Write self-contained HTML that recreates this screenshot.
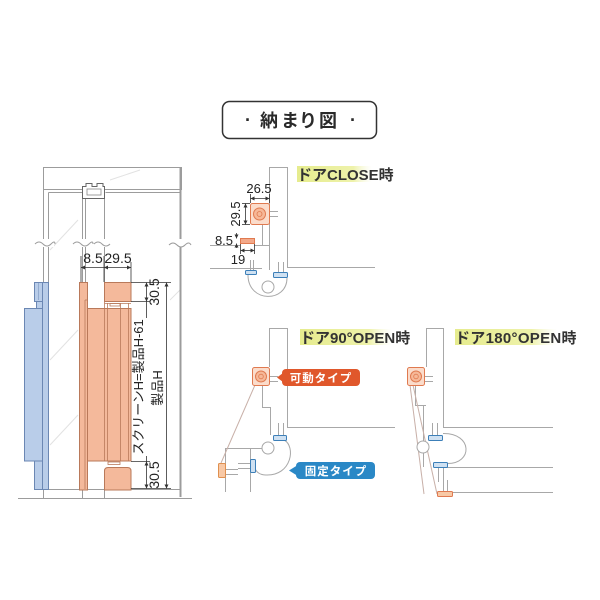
<!DOCTYPE html>
<html><head><meta charset="utf-8"><style>
html,body{margin:0;padding:0;background:#fff;}
svg{display:block;}
text{font-family:"Liberation Sans","Noto Sans CJK JP",sans-serif;}
</style></head><body>
<svg width="600" height="600" viewBox="0 0 600 600" xmlns="http://www.w3.org/2000/svg">
<defs>
<marker id="a" viewBox="0 0 6 6" refX="6" refY="3" markerWidth="5" markerHeight="5" orient="auto-start-reverse"><path d="M0,0 L6,3 L0,6z" fill="#333"/></marker>
<linearGradient id="hl" x1="0" x2="1" y1="0" y2="0"><stop offset="0" stop-color="#e6ec8e"/><stop offset="0.75" stop-color="#eef2aa"/><stop offset="1" stop-color="#f6f8d8" stop-opacity="0"/></linearGradient>
</defs>
<rect width="600" height="600" fill="#fff"/>

<!-- Title -->
<rect x="222.5" y="101.5" width="154" height="37" rx="7" fill="#fff" stroke="#333" stroke-width="1.5"/>
<g font-size="18" font-weight="bold" fill="#2a2a2a" text-anchor="middle">
<text x="248" y="126">·</text>
<text x="269" y="127">納</text>
<text x="290" y="127">ま</text>
<text x="308" y="127">り</text>
<text x="328" y="127">図</text>
<text x="353" y="126">·</text>
</g>

<!-- ========== LEFT DRAWING ========== -->
<g stroke="#e2e2e2" stroke-width="1" fill="none">
<line x1="50" y1="250" x2="78" y2="220"/>
<line x1="50" y1="360" x2="78" y2="330"/>
<line x1="50" y1="445" x2="78" y2="415"/>
<line x1="110" y1="180" x2="140" y2="170"/>
<line x1="170" y1="300" x2="180" y2="290"/>
</g>
<g stroke="#9c9c9c" stroke-width="1" fill="none">
<rect x="43.5" y="167.5" width="138" height="22"/>
<line x1="43.5" y1="189" x2="43.5" y2="282"/>
<line x1="48.5" y1="192.5" x2="48.5" y2="282"/>
<line x1="48.5" y1="192.5" x2="82" y2="192.5"/>
<line x1="105.5" y1="192.5" x2="180" y2="192.5"/>
<line x1="82.5" y1="186" x2="82.5" y2="282"/>
<line x1="85.5" y1="198" x2="85.5" y2="282"/>
<line x1="104.5" y1="186" x2="104.5" y2="282"/>
<line x1="43.5" y1="489" x2="43.5" y2="498"/>
<line x1="82.5" y1="490" x2="82.5" y2="498"/>
<line x1="104.5" y1="490" x2="104.5" y2="498"/>
<line x1="48" y1="489.5" x2="180" y2="489.5"/>
<line x1="18" y1="498.5" x2="192" y2="498.5"/>
</g>
<line x1="180.5" y1="167" x2="180.5" y2="497" stroke="#9c9c9c" stroke-width="2"/>
<!-- track profile -->
<path d="M82.5 186.5 H86 V183.5 H92 V186.5 H97 V183.5 H103 V186.5 H104.5 V198.5 H82.5 Z" fill="#fff" stroke="#666" stroke-width="1"/>
<rect x="87" y="189" width="14" height="6" fill="#fff" stroke="#888" stroke-width="0.8"/>
<!-- break marks -->
<g fill="#fff" stroke="none">
<rect x="36" y="239" width="18" height="8"/>
<rect x="74" y="239" width="18" height="8"/>
<rect x="95" y="239" width="16" height="8"/>
<rect x="170" y="239" width="20" height="8"/>
</g>
<g stroke="#9c9c9c" stroke-width="1" fill="none">
<path d="M35 244 q4 -4 8 0 t8 0 t4 0"/>
<path d="M73 244 q4 -4 8 0 t8 0 t4 0"/>
<path d="M94 244 q4 -4 8 0 t8 0"/>
<path d="M169 245 q4 -4 8 0 t8 0 t6 0"/>
</g>

<!-- blue panel -->
<g fill="#b9cde9" stroke="#6b87b3" stroke-width="1">
<rect x="42.5" y="282.5" width="6" height="207"/>
<rect x="34.5" y="282.5" width="8" height="19"/>
<rect x="36.5" y="301.5" width="6" height="7"/>
<rect x="24.5" y="308.5" width="18" height="152.5"/>
<rect x="34.5" y="461" width="8" height="28.5"/>
</g>
<line x1="38.5" y1="283" x2="38.5" y2="300" stroke="#8aa3c8" stroke-width="0.8"/>

<!-- orange screen -->
<g fill="#f4b99b" stroke="#b9795a" stroke-width="1">
<rect x="79.5" y="282.5" width="8" height="207.5"/>
<rect x="104.5" y="282.5" width="26.5" height="19"/>
<rect x="87.5" y="308.5" width="43.5" height="152.5"/>
<path d="M104.5 490 V471 q0 -3.5 3.5 -3.5 H127.5 q3.5 0 3.5 3.5 V490 Z"/>
</g>
<g stroke="#b9795a" stroke-width="0.8" fill="none">
<line x1="85" y1="300" x2="85" y2="489"/>
<line x1="85" y1="300" x2="87.5" y2="300"/>
<line x1="104.5" y1="301.5" x2="104.5" y2="461"/>
<line x1="107.5" y1="303" x2="107.5" y2="461"/>
<line x1="120.5" y1="303" x2="120.5" y2="461"/>
<line x1="128.5" y1="303" x2="128.5" y2="461"/>
<line x1="104.5" y1="303.5" x2="131" y2="303.5"/>
<rect x="110" y="303.5" width="10" height="2.5"/>
<rect x="108" y="462" width="12" height="2.5"/>
</g>

<!-- left dims -->
<g stroke="#333" stroke-width="0.8" fill="none">
<line x1="81" y1="256" x2="81" y2="282"/>
<line x1="104" y1="256" x2="104" y2="282"/>
<line x1="131" y1="262" x2="131" y2="282"/>
<line x1="81" y1="267.5" x2="104" y2="267.5" marker-start="url(#a)"/>
<line x1="104" y1="267.5" x2="131" y2="267.5" marker-start="url(#a)" marker-end="url(#a)"/>
<line x1="131" y1="282.5" x2="171" y2="282.5"/>
<line x1="131" y1="301.5" x2="150" y2="301.5"/>
<line x1="131" y1="461.5" x2="150" y2="461.5"/>
<line x1="131" y1="488.5" x2="171" y2="488.5"/>
<line x1="146.5" y1="282.5" x2="146.5" y2="301.5" marker-start="url(#a)" marker-end="url(#a)"/>
<line x1="146.5" y1="301.5" x2="146.5" y2="318"/>
<line x1="146.5" y1="456" x2="146.5" y2="461.5"/>
<line x1="146.5" y1="461.5" x2="146.5" y2="488.5" marker-start="url(#a)" marker-end="url(#a)"/>
<line x1="166.5" y1="282.5" x2="166.5" y2="488.5" marker-start="url(#a)" marker-end="url(#a)"/>
</g>
<g font-size="14" fill="#222" text-anchor="middle">
<text x="93" y="263">8.5</text>
<text x="118" y="263">29.5</text>
<text transform="translate(159 292) rotate(-90)" y="0">30.5</text>
<text transform="translate(159 475) rotate(-90)" y="0">30.5</text>
<text transform="translate(143 387) rotate(-90)" font-size="13">スクリーンH=製品H-61</text>
<text transform="translate(162 388) rotate(-90)" font-size="13">製品H</text>
</g>

<!-- ========== CLOSE ========== -->
<rect x="297" y="166" width="75" height="16" fill="url(#hl)"/>
<text x="297" y="180" font-size="15" font-weight="bold" fill="#333">ドアCLOSE時</text>
<g stroke="#a8a8a8" stroke-width="1" fill="none">
<path d="M269.5 260 V167.5 H287.5 V267.5 H375"/>
<line x1="210" y1="268.5" x2="262" y2="268.5"/>
<line x1="210" y1="245.5" x2="240" y2="245.5"/>
<line x1="254" y1="245.5" x2="270" y2="245.5"/>
<line x1="262.5" y1="224" x2="262.5" y2="245"/>
<line x1="269.5" y1="245" x2="269.5" y2="270"/>
<line x1="269" y1="211.5" x2="278" y2="211.5"/>
<line x1="269" y1="216.5" x2="278" y2="216.5"/>
<line x1="250.5" y1="260" x2="250.5" y2="270"/>
<line x1="253.5" y1="260" x2="253.5" y2="270"/>
<line x1="278.5" y1="262" x2="278.5" y2="273"/>
<line x1="283.5" y1="262" x2="283.5" y2="273"/>
<path d="M248 275 C248 303 287 303 287 278"/>
<circle cx="268" cy="287" r="6" fill="#fff"/>
</g>
<rect x="250.5" y="203.5" width="19" height="21" rx="2" fill="#fbdccb" stroke="#e07a50"/>
<circle cx="259.5" cy="214" r="6" fill="#f6b898" stroke="#e07a50"/>
<circle cx="259.5" cy="214" r="2.5" fill="none" stroke="#e07a50" stroke-width="0.8"/>
<rect x="240.5" y="238.5" width="14" height="5" fill="#f3a98a" stroke="#e07a50"/>
<rect x="245.5" y="270.5" width="11" height="4" rx="1" fill="#cfe1f2" stroke="#3c7fb8"/>
<rect x="273.5" y="272.5" width="14" height="5" rx="1" fill="#cfe1f2" stroke="#3c7fb8"/>
<g stroke="#333" stroke-width="0.8" fill="none">
<line x1="250.5" y1="194" x2="250.5" y2="203"/>
<line x1="269.5" y1="194" x2="269.5" y2="203"/>
<line x1="250.5" y1="198.5" x2="269.5" y2="198.5" marker-start="url(#a)" marker-end="url(#a)"/>
<line x1="242" y1="203.5" x2="250" y2="203.5"/>
<line x1="242" y1="224.5" x2="250" y2="224.5"/>
<line x1="245.5" y1="203.5" x2="245.5" y2="224.5" marker-start="url(#a)" marker-end="url(#a)"/>
<line x1="236.5" y1="233" x2="236.5" y2="238.5" marker-end="url(#a)"/>
<line x1="236.5" y1="248" x2="236.5" y2="243.5" marker-end="url(#a)"/>
<line x1="240.5" y1="244" x2="240.5" y2="254"/>
<line x1="254.5" y1="244" x2="254.5" y2="254"/>
<line x1="240.5" y1="250.5" x2="254.5" y2="250.5" marker-start="url(#a)" marker-end="url(#a)"/>
</g>
<g font-size="13" fill="#222" text-anchor="middle">
<text x="259" y="193">26.5</text>
<text transform="translate(236 214) rotate(-90)" y="4">29.5</text>
<text x="224" y="245">8.5</text>
<text x="238" y="264">19</text>
</g>

<!-- ========== 90 OPEN ========== -->
<rect x="300" y="329" width="92" height="16" fill="url(#hl)"/>
<text x="300" y="343" font-size="15" font-weight="bold" fill="#333">ドア90°OPEN時</text>
<g stroke="#a8a8a8" stroke-width="1" fill="none">
<path d="M269.5 367 V328.5 H287.5 V427.5 H395"/>
<path d="M262.5 385 V407.5 H270.5 V435"/>
<line x1="269" y1="376.5" x2="278" y2="376.5"/>
<line x1="269" y1="381.5" x2="278" y2="381.5"/>
<line x1="278.5" y1="423" x2="278.5" y2="435"/>
<line x1="283.5" y1="423" x2="283.5" y2="435"/>
<path d="M284 440 C296 446 292 476 266 475 C260 475 256 472 255 468"/>
<line x1="225" y1="448.5" x2="262" y2="448.5"/>
<line x1="225.5" y1="448.5" x2="225.5" y2="492"/>
<line x1="250.5" y1="448.5" x2="250.5" y2="492"/>
<line x1="238" y1="463.5" x2="250" y2="463.5"/>
<line x1="238" y1="468.5" x2="250" y2="468.5"/>
<line x1="225" y1="469.5" x2="238" y2="469.5"/>
<line x1="225" y1="474.5" x2="238" y2="474.5"/>
<line x1="255" y1="385" x2="221" y2="463" stroke="#c8b0a8"/>
<circle cx="268" cy="448" r="6" fill="#fff"/>
</g>
<rect x="252.5" y="367.5" width="17" height="18" rx="2" fill="#fbdccb" stroke="#e07a50"/>
<circle cx="261" cy="376.5" r="5.5" fill="#f6b898" stroke="#e07a50"/>
<circle cx="261" cy="376.5" r="2.3" fill="none" stroke="#e07a50" stroke-width="0.8"/>
<rect x="273.5" y="435.5" width="13" height="5" rx="1" fill="#cfe1f2" stroke="#3c7fb8"/>
<rect x="250.5" y="459.5" width="5" height="13" rx="1" fill="#cfe1f2" stroke="#3c7fb8"/>
<rect x="218.5" y="463.5" width="7" height="14" rx="1" fill="#f8c9a6" stroke="#e0904f"/>
<!-- callouts -->
<path d="M277 377.5 L283 373 L283 382 Z" fill="#e0572b"/>
<rect x="282" y="369" width="78" height="17" rx="4" fill="#e0572b"/>
<text x="321" y="382" font-size="11.5" font-weight="bold" fill="#fff" text-anchor="middle" letter-spacing="1">可動タイプ</text>
<path d="M289 470.5 L297 465.5 L297 475.5 Z" fill="#2a88c6"/>
<rect x="296" y="462" width="79" height="17" rx="4" fill="#2a88c6"/>
<text x="336" y="475" font-size="11.5" font-weight="bold" fill="#fff" text-anchor="middle" letter-spacing="1">固定タイプ</text>

<!-- ========== 180 OPEN ========== -->
<rect x="455" y="329" width="102" height="16" fill="url(#hl)"/>
<text x="455" y="343" font-size="15" font-weight="bold" fill="#333" letter-spacing="0.3">ドア180°OPEN時</text>
<g stroke="#a8a8a8" stroke-width="1" fill="none">
<path d="M426.5 367 V328.5 H443.5 V427.5 H553"/>
<path d="M415.5 385 V405.5 H426"/>
<line x1="423.5" y1="405" x2="423.5" y2="467"/>
<line x1="424" y1="376.5" x2="433" y2="376.5"/>
<line x1="424" y1="381.5" x2="433" y2="381.5"/>
<line x1="432.5" y1="423" x2="432.5" y2="435"/>
<line x1="437.5" y1="423" x2="437.5" y2="435"/>
<path d="M443 433.5 C473 433 473 464 447 463.5"/>
<line x1="447" y1="467.5" x2="553" y2="467.5"/>
<line x1="450" y1="492.5" x2="553" y2="492.5"/>
<line x1="438.5" y1="468" x2="438.5" y2="482"/>
<line x1="443.5" y1="468" x2="443.5" y2="482"/>
<line x1="443.5" y1="480" x2="443.5" y2="491"/>
<line x1="447.5" y1="480" x2="447.5" y2="491"/>
<line x1="410" y1="385" x2="424" y2="494" stroke="#c8b0a8"/>
<line x1="413" y1="385" x2="437" y2="494" stroke="#c8b0a8"/>
<circle cx="423" cy="447" r="6" fill="#fff"/>
</g>
<rect x="407.5" y="367.5" width="17" height="18" rx="2" fill="#fbdccb" stroke="#e07a50"/>
<circle cx="416" cy="376.5" r="5.5" fill="#f6b898" stroke="#e07a50"/>
<circle cx="416" cy="376.5" r="2.3" fill="none" stroke="#e07a50" stroke-width="0.8"/>
<rect x="428.5" y="435.5" width="14" height="5" rx="1" fill="#cfe1f2" stroke="#3c7fb8"/>
<rect x="433.5" y="462.5" width="14" height="5" rx="1" fill="#cfe1f2" stroke="#3c7fb8"/>
<rect x="437.5" y="491.5" width="15" height="5" rx="1" fill="#f8c9a6" stroke="#e07a50"/>
</svg>
</body></html>
